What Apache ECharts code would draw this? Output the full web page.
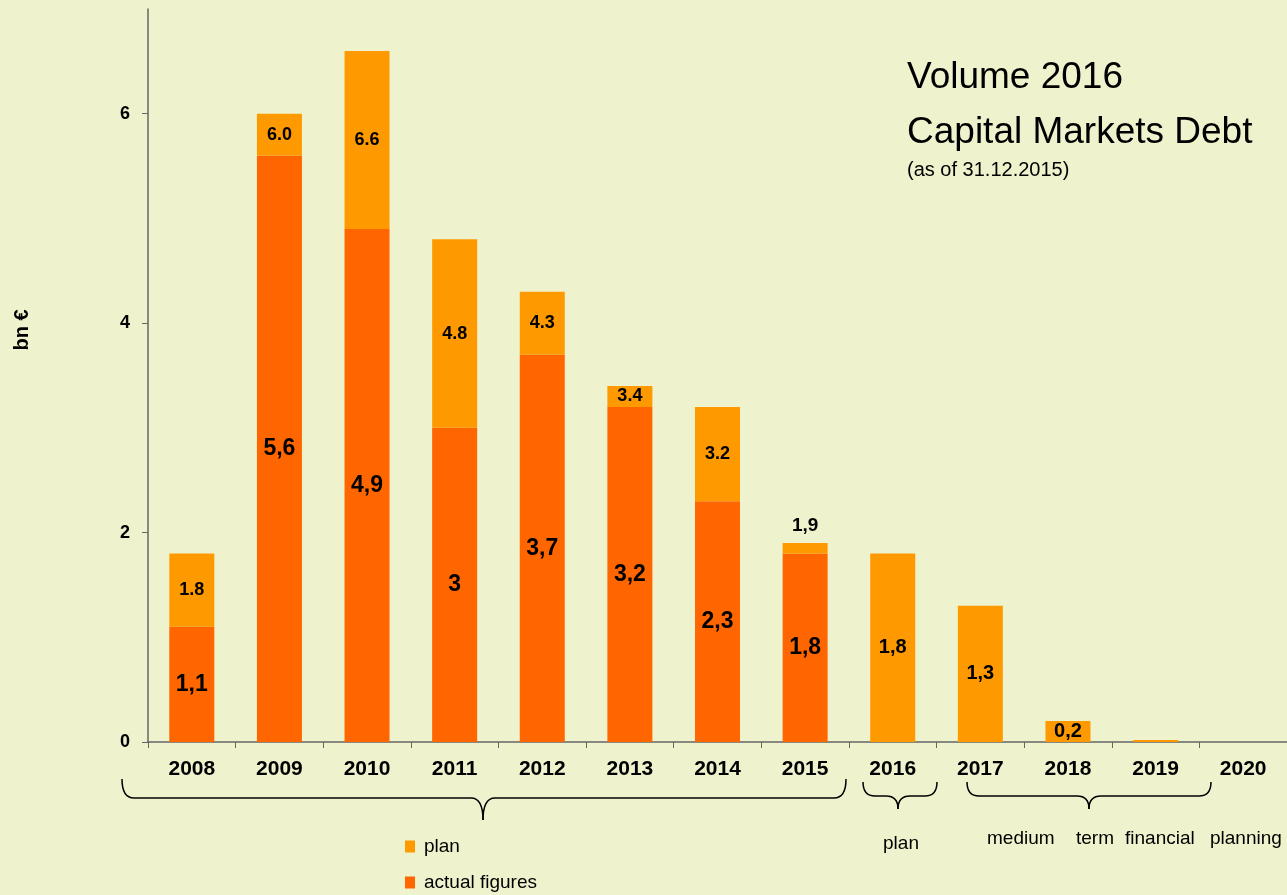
<!DOCTYPE html>
<html>
<head>
<meta charset="utf-8">
<script src="https://cdn.jsdelivr.net/npm/echarts@6/dist/echarts.min.js"></script>
<style>
html,body{margin:0;padding:0;background:#EFF3CD;}
#c{width:1287px;height:895px;}
</style>
</head>
<body>
<div id="c"></div>
<script>
var years = ['2008','2009','2010','2011','2012','2013','2014','2015','2016','2017','2018','2019','2020'];
var actualValues = [1.1, 5.6, 4.9, 3.0, 3.7, 3.2, 2.3, 1.8, null, null, null, null, null];
var planTotals = [1.8, 6.0, 6.6, 4.8, 4.3, 3.4, 3.2, 1.9, 1.8, 1.3, 0.2, 0.02, null];
var actualLabels = ['1,1','5,6','4,9','3','3,7','3,2','2,3','1,8','','','','',''];
var planLabels = ['1.8','6.0','6.6','4.8','4.3','3.4','3.2','1,9','1,8','1,3','0,2','',''];
var yTicks = [0, 2, 4, 6];
var mediumWords = ['medium', 'term', 'financial', 'planning'];

var FONT = '"Liberation Sans", Arial, sans-serif';
var chart = echarts.init(document.getElementById('c'));

var planData = planTotals.map(function (t, i) {
  if (t == null) return null;
  var a = actualValues[i] || 0;
  var item = { value: +(t - a).toFixed(3) };
  var lab = planLabels[i];
  if (i === 7) {
    item.label = { show: true, position: 'top', distance: 8, formatter: lab, fontSize: 19 };
  } else if (i >= 8) {
    item.label = { show: lab !== '', position: 'inside', formatter: lab, fontSize: 20 };
  } else {
    item.label = { show: true, position: 'inside', formatter: lab, fontSize: 18 };
  }
  return item;
});
var actualData = actualValues.map(function (v, i) {
  if (v == null) return null;
  return { value: v, label: { show: true, position: 'inside', formatter: actualLabels[i] } };
});

var braceStyle = { stroke: '#000', lineWidth: 1.5, fill: null };
function brace(x1, x2, xc, yTop, yMid, yTip) {
  var r = 12;
  return [
    { type: 'bezierCurve', shape: { x1: x1, y1: yTop, cpx1: x1, cpy1: yMid, x2: x1 + r, y2: yMid }, style: braceStyle },
    { type: 'line', shape: { x1: x1 + r, y1: yMid, x2: xc - r, y2: yMid }, style: braceStyle },
    { type: 'bezierCurve', shape: { x1: xc - r, y1: yMid, cpx1: xc, cpy1: yMid, x2: xc, y2: yTip }, style: braceStyle },
    { type: 'bezierCurve', shape: { x1: xc, y1: yTip, cpx1: xc, cpy1: yMid, x2: xc + r, y2: yMid }, style: braceStyle },
    { type: 'line', shape: { x1: xc + r, y1: yMid, x2: x2 - r, y2: yMid }, style: braceStyle },
    { type: 'bezierCurve', shape: { x1: x2 - r, y1: yMid, cpx1: x2, cpy1: yMid, x2: x2, y2: yTop }, style: braceStyle }
  ];
}

var wordX = [987, 1076, 1125, 1210];
var graphics = [
  { type: 'text', x: 22, y: 330, rotation: Math.PI / 2,
    style: { text: 'bn €', fontFamily: FONT, fontSize: 20, fontWeight: 'bold', fill: '#000', align: 'center', verticalAlign: 'middle' } },
  { type: 'text', x: 901, y: 844,
    style: { text: 'plan', fontFamily: FONT, fontSize: 19, fill: '#000', align: 'center', verticalAlign: 'middle' } }
].concat(mediumWords.map(function (w, i) {
  return { type: 'text', x: wordX[i], y: 839,
    style: { text: w, fontFamily: FONT, fontSize: 19, fill: '#000', align: 'left', verticalAlign: 'middle' } };
}))
 .concat(brace(122, 846, 483, 779, 798, 820))
 .concat(brace(863, 937, 898, 782, 796, 809))
 .concat(brace(967, 1211, 1089, 782, 796, 809));

var legendCommon = {
  itemWidth: 10, itemHeight: 12, icon: 'rect', itemGap: 10,
  textStyle: { fontFamily: FONT, fontSize: 19, color: '#000', padding: [4, 0, 0, 4] }
};

chart.setOption({
  backgroundColor: '#EFF3CD',
  animation: false,
  textStyle: { fontFamily: FONT },
  title: {
    text: 'Volume 2016\nCapital Markets Debt',
    subtext: '(as of 31.12.2015)',
    left: 902, top: 45,
    itemGap: 0,
    textStyle: { fontFamily: FONT, fontSize: 37, fontWeight: 'normal', color: '#000', lineHeight: 55 },
    subtextStyle: { fontFamily: FONT, fontSize: 20, color: '#000', lineHeight: 20 }
  },
  legend: [
    Object.assign({ left: 400, top: 832, data: ['plan'] }, legendCommon),
    Object.assign({ left: 400, top: 868, data: ['actual figures'] }, legendCommon)
  ],
  grid: { left: 148, top: 9, width: 1154, bottom: 153, containLabel: false },
  xAxis: {
    type: 'category',
    data: years,
    boundaryGap: true,
    axisLine: { lineStyle: { color: '#666', width: 1.5 } },
    axisTick: { show: true, length: 6, lineStyle: { color: '#666' } },
    axisLabel: { fontFamily: FONT, fontSize: 21, fontWeight: 'bold', color: '#000', margin: 17 }
  },
  yAxis: {
    type: 'value',
    min: 0, max: 7,
    axisLine: { show: true, lineStyle: { color: '#666', width: 1.5 } },
    axisTick: { show: true, length: 6, customValues: yTicks, lineStyle: { color: '#666' } },
    axisLabel: { fontFamily: FONT, fontSize: 18, fontWeight: 'bold', color: '#000', margin: 18, customValues: yTicks },
    splitLine: { show: false }
  },
  series: [
    {
      name: 'actual figures', type: 'bar', stack: 'v', barWidth: 45,
      itemStyle: { color: '#FF6600' },
      label: { color: '#000', fontWeight: 'bold', fontSize: 23, fontFamily: FONT },
      data: actualData
    },
    {
      name: 'plan', type: 'bar', stack: 'v', barWidth: 45,
      itemStyle: { color: '#FF9900' },
      label: { color: '#000', fontWeight: 'bold', fontSize: 18, fontFamily: FONT },
      data: planData
    }
  ],
  graphic: graphics
});
</script>
</body>
</html>
